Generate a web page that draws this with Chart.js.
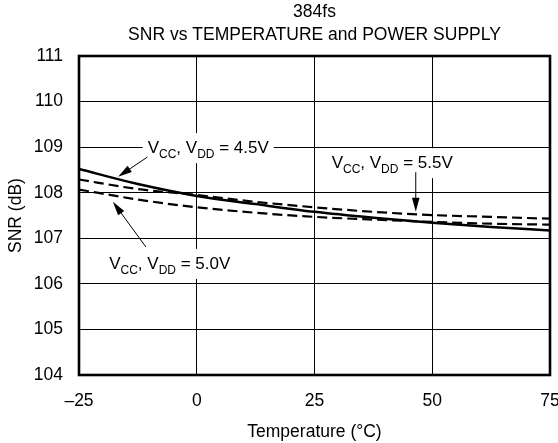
<!DOCTYPE html>
<html>
<head>
<meta charset="utf-8">
<script src="https://cdn.jsdelivr.net/npm/chart.js@4/dist/chart.umd.min.js"></script>
<style>
  html, body { margin: 0; padding: 0; background: #fff; }
  #wrap { width: 558px; height: 443px; }
</style>
</head>
<body>
<div id="wrap"><canvas id="graficoSnr" width="558" height="443"></canvas></div>
<script>
// dados
var temperaturas = [-25, -12.5, 0, 12.5, 25, 37.5, 50, 62.5, 75];
var snr45 = [108.52, 108.19, 107.93, 107.75, 107.58, 107.45, 107.34, 107.25, 107.17];
var snr50 = [108.07, 107.85, 107.68, 107.56, 107.47, 107.41, 107.36, 107.32, 107.30];
var snr55 = [108.29, 108.08, 107.95, 107.80, 107.68, 107.58, 107.51, 107.47, 107.43];
var ticksX = [-25, 0, 25, 50, 75];
var ticksY = [104, 105, 106, 107, 108, 109, 110, 111];
var titulos = ['384fs', 'SNR vs TEMPERATURE and POWER SUPPLY'];

var fonte = '"Liberation Sans", Arial, Helvetica, sans-serif';
var tamFonte = 17.5;

// rotulos: texto, posicao (dados), seta (cauda -> ponta)
var rotulos = [
  { tensao: '4.5V', x: 2.44, y: 109.0, seta: [-10.5, 108.78, -16.7, 108.35] },
  { tensao: '5.0V', x: -5.73, y: 106.46, seta: [-10.8, 106.81, -17.8, 107.8] },
  { tensao: '5.5V', x: 41.5, y: 108.67, seta: [46.5, 108.45, 46.5, 107.58] }
];

function pontos(valores) {
  return temperaturas.map(function(t, i) { return { x: t, y: valores[i] }; });
}

function desenharRotulo(ctx, cx, cy, tensao) {
  var partes = [
    { t: 'V', sub: false }, { t: 'CC', sub: true }, { t: ', V', sub: false },
    { t: 'DD', sub: true }, { t: ' = ' + tensao, sub: false }
  ];
  var total = 0;
  partes.forEach(function(p) {
    ctx.font = (p.sub ? '12px ' : '17px ') + fonte;
    p.w = ctx.measureText(p.t).width;
    total += p.w;
  });
  ctx.fillStyle = '#fff';
  ctx.fillRect(cx - total / 2 - 5, cy - 14, total + 10, 30);
  ctx.fillStyle = '#000';
  ctx.textBaseline = 'alphabetic';
  ctx.textAlign = 'left';
  var x = cx - total / 2;
  partes.forEach(function(p) {
    ctx.font = (p.sub ? '12px ' : '17px ') + fonte;
    ctx.fillText(p.t, x, cy + 6 + (p.sub ? 5 : 0));
    x += p.w;
  });
}

function desenharSeta(ctx, x1, y1, x2, y2) {
  var ang = Math.atan2(y2 - y1, x2 - x1);
  var tam = 14, larg = 3.8;
  ctx.strokeStyle = '#000';
  ctx.lineWidth = 1;
  ctx.beginPath();
  ctx.moveTo(x1, y1);
  ctx.lineTo(x2 - Math.cos(ang) * tam * 0.8, y2 - Math.sin(ang) * tam * 0.8);
  ctx.stroke();
  ctx.fillStyle = '#000';
  ctx.beginPath();
  ctx.moveTo(x2, y2);
  ctx.lineTo(x2 - Math.cos(ang) * tam - Math.sin(ang) * larg, y2 - Math.sin(ang) * tam + Math.cos(ang) * larg);
  ctx.lineTo(x2 - Math.cos(ang) * tam + Math.sin(ang) * larg, y2 - Math.sin(ang) * tam - Math.cos(ang) * larg);
  ctx.closePath();
  ctx.fill();
}

var pluginAnotacoes = {
  id: 'anotacoes',
  afterDatasetsDraw: function(chart) {
    var ctx = chart.ctx, sx = chart.scales.x, sy = chart.scales.y, area = chart.chartArea;
    ctx.save();
    rotulos.forEach(function(r) {
      desenharRotulo(ctx, sx.getPixelForValue(r.x), sy.getPixelForValue(r.y), r.tensao);
      desenharSeta(ctx,
        sx.getPixelForValue(r.seta[0]), sy.getPixelForValue(r.seta[1]),
        sx.getPixelForValue(r.seta[2]), sy.getPixelForValue(r.seta[3]));
    });
    // moldura
    ctx.strokeStyle = '#000';
    ctx.lineWidth = 2.6;
    ctx.strokeRect(area.left, area.top, area.right - area.left, area.bottom - area.top);
    // titulo centrado na area do grafico
    ctx.fillStyle = '#000';
    ctx.font = tamFonte + 'px ' + fonte;
    ctx.textAlign = 'center';
    ctx.textBaseline = 'middle';
    var centro = (area.left + area.right) / 2;
    ctx.fillText(titulos[0], centro, 12);
    ctx.fillText(titulos[1], centro, 35);
    ctx.restore();
  }
};

var _graficoSnr = new Chart(document.getElementById('graficoSnr').getContext('2d'), {
  type: 'line',
  data: {
    datasets: [
      { label: 'VCC, VDD = 4.5V', data: pontos(snr45), borderColor: '#000', borderWidth: 2.5,
        pointRadius: 0, cubicInterpolationMode: 'monotone', fill: false },
      { label: 'VCC, VDD = 5.0V', data: pontos(snr50), borderColor: '#000', borderWidth: 2.2,
        borderDash: [10, 5], pointRadius: 0, cubicInterpolationMode: 'monotone', fill: false },
      { label: 'VCC, VDD = 5.5V', data: pontos(snr55), borderColor: '#000', borderWidth: 2.2,
        borderDash: [10, 5], pointRadius: 0, cubicInterpolationMode: 'monotone', fill: false }
    ]
  },
  options: {
    responsive: false,
    animation: false,
    layout: { padding: { top: 56, right: 0, left: 0, bottom: 0 } },
    plugins: { legend: { display: false }, tooltip: { enabled: false }, title: { display: false } },
    scales: {
      x: {
        type: 'linear', min: -25, max: 75,
        afterBuildTicks: function(scale) { scale.ticks = ticksX.map(function(v) { return { value: v }; }); },
        afterFit: function(scale) { scale.height = 68; scale.paddingRight = 8; scale.paddingLeft = 0; },
        grid: { color: '#000', lineWidth: 1, drawTicks: false },
        border: { display: false },
        ticks: {
          color: '#000', padding: 16, maxRotation: 0,
          font: { family: fonte, size: tamFonte },
          callback: function(v) { return String(v).replace('-', '\u2013'); }
        },
        title: { display: true, text: 'Temperature (°C)', color: '#000',
          font: { family: fonte, size: tamFonte }, padding: { top: 8, bottom: 0 } }
      },
      y: {
        min: 104, max: 111,
        afterBuildTicks: function(scale) { scale.ticks = ticksY.map(function(v) { return { value: v }; }); },
        afterFit: function(scale) { scale.width = 79; },
        grid: { color: '#000', lineWidth: 1, drawTicks: false },
        border: { display: false },
        ticks: { color: '#000', padding: 16, font: { family: fonte, size: tamFonte } },
        title: { display: true, text: 'SNR (dB)', color: '#000',
          font: { family: fonte, size: tamFonte }, padding: { top: 6, bottom: 6 } }
      }
    }
  },
  plugins: [pluginAnotacoes]
});
</script>
</body>
</html>
